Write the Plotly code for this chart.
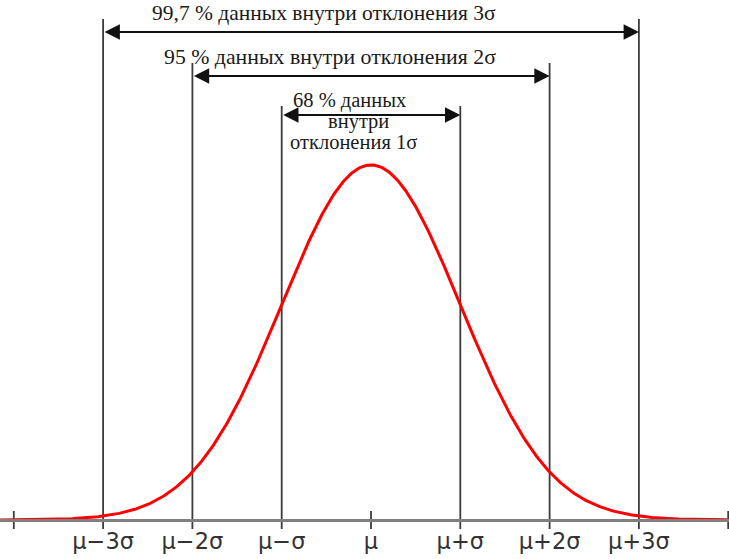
import numpy as np
import plotly.graph_objects as go

# ---- data ----
mu = 0.0
sigma = 1.0
tick_vals = [-3, -2, -1, 0, 1, 2, 3]
tick_labels = ["μ−3σ", "μ−2σ", "μ−σ", "μ", "μ+σ", "μ+2σ", "μ+3σ"]
end_ticks = [-4, 4]
band_k = [3, 2, 1]
band_texts = ["99,7 % данных внутри отклонения 3σ",
              "95 % данных внутри отклонения 2σ"]
band1_lines = ["68 % данных", "внутри", "отклонения 1σ"]

# standard normal density
xs = np.linspace(-4.2, 4.05, 600)
ys = np.exp(-0.5 * ((xs - mu) / sigma) ** 2) / (sigma * np.sqrt(2 * np.pi))

# ---- layout constants (pixel based) ----
W, H = 729, 559
PX_PER_X = 89.3
X0 = 371
PX_PER_Y = 890
Y0 = 520


def yd(py):
    return (Y0 - py) / PX_PER_Y


def xd(px):
    return (px - X0) / PX_PER_X


line_tops = {3: yd(19), 2: yd(63), 1: yd(106)}
arrow_y = {3: yd(32), 2: yd(76), 1: yd(115)}
vcol = "#3c3c3c"

fig = go.Figure()

# vertical sigma lines
for k in band_k:
    for s in (-1, 1):
        fig.add_trace(go.Scatter(x=[s * k, s * k], y=[yd(529), line_tops[k]],
                                 mode="lines", line=dict(color=vcol, width=1.8),
                                 hoverinfo="skip", showlegend=False))
# center tick and end ticks
for e in [0] + end_ticks:
    fig.add_trace(go.Scatter(x=[e, e], y=[yd(529), yd(511)], mode="lines",
                             line=dict(color=vcol, width=1.8),
                             hoverinfo="skip", showlegend=False))

# curve
fig.add_trace(go.Scatter(x=xs, y=ys, mode="lines",
                         line=dict(color="#ff0000", width=3),
                         hoverinfo="skip", showlegend=False))

# arrows
for k in band_k:
    fig.add_annotation(x=k, y=arrow_y[k], ax=-k, ay=arrow_y[k],
                       xref="x", yref="y", axref="x", ayref="y",
                       text="", showarrow=True, arrowside="end+start",
                       arrowhead=2, arrowsize=1.7, arrowwidth=1.8,
                       arrowcolor="#111111", standoff=0, startstandoff=0)

def serif(sz):
    return dict(family="Liberation Serif", size=sz, color="#1a1a1a")

fig.add_annotation(x=xd(324), y=yd(13), text=band_texts[0], showarrow=False,
                   xref="x", yref="y", font=serif(21.5))
fig.add_annotation(x=xd(330), y=yd(57), text=band_texts[1], showarrow=False,
                   xref="x", yref="y", font=serif(21.8))
for txt, cx, cy in zip(band1_lines, [349, 358, 353], [100, 121, 142]):
    fig.add_annotation(x=xd(cx), y=yd(cy), text=txt, showarrow=False,
                       xref="x", yref="y", font=serif(20.5))

fig.update_layout(
    width=W, height=H,
    margin=dict(l=0, r=0, t=0, b=0),
    paper_bgcolor="white", plot_bgcolor="white",
    xaxis=dict(range=[xd(0), xd(W)], showgrid=False, zeroline=False,
               showline=True, linecolor="#808080", linewidth=3,
               anchor="free", position=(H - Y0) / H,
               tickvals=tick_vals, ticktext=tick_labels, ticks="",
               tickfont=dict(family="DejaVu Sans", size=22.5, color="#333333")),
    yaxis=dict(range=[yd(H), yd(0)], visible=False, showgrid=False, zeroline=False),
)

fig.write_html("out.html")
